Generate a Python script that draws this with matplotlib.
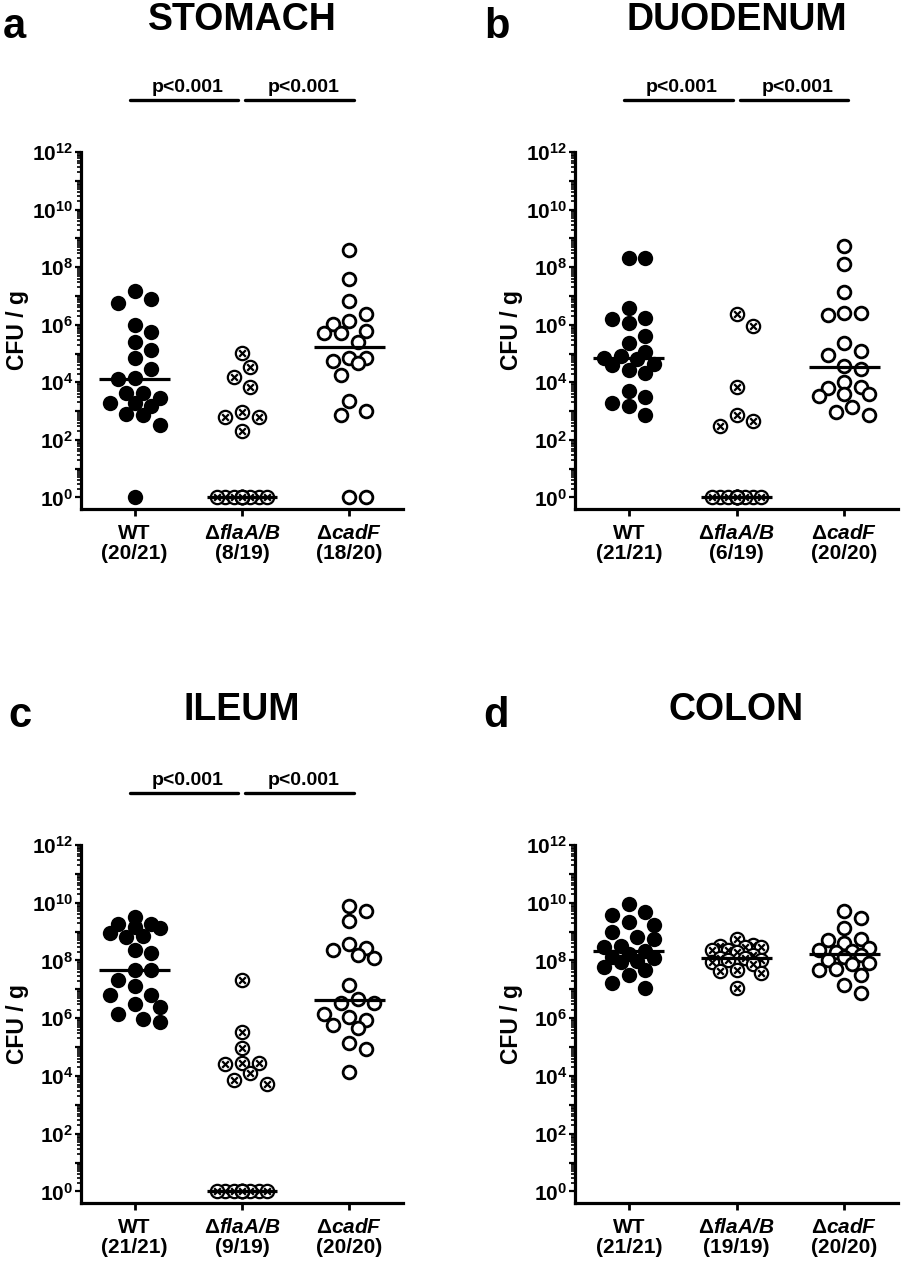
import numpy as np
import matplotlib
matplotlib.use('Agg')
import matplotlib.pyplot as plt
from matplotlib.path import Path
from matplotlib.ticker import FixedLocator, FuncFormatter, NullFormatter
from matplotlib.transforms import blended_transform_factory

plt.rcParams['font.family'] = ['Liberation Sans', 'DejaVu Sans']
plt.rcParams['font.weight'] = 'bold'
plt.rcParams['mathtext.fontset'] = 'custom'
plt.rcParams['mathtext.rm'] = 'Liberation Sans:bold'
plt.rcParams['mathtext.it'] = 'Liberation Sans:bold:italic'
plt.rcParams['mathtext.sf'] = 'Liberation Sans:bold:italic'
plt.rcParams['mathtext.bf'] = 'Liberation Sans:bold'

# ---------------- data (log10 CFU/g; 0 = detection floor 10^0) ----------------
titles = ['STOMACH', 'DUODENUM', 'ILEUM', 'COLON']
letters = ['a', 'b', 'c', 'd']

stomach_wt = [7.18, 6.88, 6.77, 6.00, 5.76, 5.41, 5.13, 4.83, 4.46, 4.14, 4.10,
              3.62, 3.62, 3.45, 3.29, 3.29, 3.18, 2.86, 2.89, 2.53, 0]
stomach_fla = [5.03, 4.52, 4.17, 3.85, 2.98, 2.81, 2.79, 2.31,
               0, 0, 0, 0, 0, 0, 0, 0, 0, 0, 0]
stomach_cad = [8.59, 7.58, 6.81, 6.38, 6.12, 6.02, 5.78, 5.73, 5.71, 5.41,
               4.83, 4.83, 4.75, 4.66, 4.25, 3.35, 3.02, 2.87, 0, 0]

duodenum_wt = [8.31, 8.31, 6.59, 6.25, 6.20, 6.06, 5.62, 5.37, 5.04, 4.90, 4.86,
               4.81, 4.65, 4.60, 4.43, 4.31, 3.71, 3.48, 3.27, 3.19, 2.88]
duodenum_fla = [6.38, 5.96, 3.83, 2.86, 2.64, 2.49,
                0, 0, 0, 0, 0, 0, 0, 0, 0, 0, 0, 0, 0]
duodenum_cad = [8.75, 8.12, 7.14, 6.40, 6.40, 6.35, 5.36, 5.10, 4.96, 4.58,
                4.46, 4.00, 3.85, 3.80, 3.59, 3.59, 3.51, 3.13, 2.98, 2.88]

ileum_wt = [9.51, 9.28, 9.28, 9.17, 9.11, 8.94, 8.84, 8.82, 8.36, 8.26, 7.66,
            7.66, 7.31, 7.11, 6.82, 6.79, 6.50, 6.39, 6.16, 5.98, 5.87]
ileum_fla = [7.31, 5.54, 4.98, 4.44, 4.44, 4.40, 4.10, 3.87, 3.73,
             0, 0, 0, 0, 0, 0, 0, 0, 0, 0]
ileum_cad = [9.90, 9.73, 9.36, 8.56, 8.44, 8.38, 8.18, 8.10, 7.16, 6.68,
             6.54, 6.53, 6.16, 6.04, 5.95, 5.78, 5.67, 5.14, 4.94, 4.13]

colon_wt = [9.95, 9.69, 9.56, 9.34, 9.22, 8.99, 8.82, 8.76, 8.50, 8.47, 8.32,
            8.22, 8.13, 8.07, 7.97, 7.95, 7.78, 7.66, 7.49, 7.22, 7.06]
colon_fla = [8.76, 8.55, 8.50, 8.47, 8.45, 8.38, 8.36, 8.30, 8.20, 8.10,
             8.07, 8.03, 8.00, 7.95, 7.88, 7.66, 7.64, 7.57, 7.06]
colon_cad = [9.71, 9.46, 9.13, 8.73, 8.70, 8.61, 8.44, 8.38, 8.32, 8.28,
             8.18, 8.11, 8.01, 7.92, 7.88, 7.70, 7.66, 7.49, 7.16, 6.88]

counts_stomach = ['(20/21)', '(8/19)', '(18/20)']
counts_duodenum = ['(21/21)', '(6/19)', '(20/20)']
counts_ileum = ['(21/21)', '(9/19)', '(20/20)']
counts_colon = ['(21/21)', '(19/19)', '(20/20)']

pvals_stomach = ['p<0.001', 'p<0.001']
pvals_duodenum = ['p<0.001', 'p<0.001']
pvals_ileum = ['p<0.001', 'p<0.001']
pvals_colon = []

strain_names = ['WT', 'Δ$\\mathsf{flaA/B}$', 'Δ$\\mathsf{cadF}$']

panels = [
    (stomach_wt, stomach_fla, stomach_cad, counts_stomach, pvals_stomach),
    (duodenum_wt, duodenum_fla, duodenum_cad, counts_duodenum, pvals_duodenum),
    (ileum_wt, ileum_fla, ileum_cad, counts_ileum, pvals_ileum),
    (colon_wt, colon_fla, colon_cad, counts_colon, pvals_colon),
]

# ---------------- layout ----------------
W, H = 901, 1266
fig = plt.figure(figsize=(W / 100, H / 100), dpi=100)

# axes boxes in pixels: left, right, top, bottom
boxes = [(81, 403, 152, 509), (575, 898, 152, 509),
         (81, 403, 845, 1203), (575, 898, 845, 1203)]
letter_pos = [(3, 38), (484, 38), (8, 727), (483, 727)]

# crossed-circle marker
circ = Path.unit_circle()
a = 0.5
xl1 = Path([(-a, -a), (a, a)], [Path.MOVETO, Path.LINETO])
xl2 = Path([(-a, a), (a, -a)], [Path.MOVETO, Path.LINETO])
crossed = Path.make_compound_path(circ, xl1, xl2)

DIAM = 15.5   # px, collision diameter
STEP = 8.33   # px, horizontal step
KMAX = 3


def swarm_offsets(ax, xc, vals):
    pts = ax.transData.transform(np.column_stack([np.full(len(vals), xc), vals]))
    ys = pts[:, 1]
    order = np.argsort(-ys, kind='stable')
    cands = [0]
    for k in range(1, KMAX + 1):
        cands += [k, -k]
    placed = []
    offs = np.zeros(len(vals))
    for i in order:
        best, bestd = 0, -1.0
        for k in cands:
            x = k * STEP
            if placed:
                d = min(np.hypot(x - px, ys[i] - py) for px, py in placed)
            else:
                d = np.inf
            if d >= DIAM:
                best = k
                break
            if d > bestd + 1e-9:
                bestd, best = d, k
        placed.append((best * STEP, ys[i]))
        offs[i] = best * STEP
    return offs


for idx, (wt, fla, cad, counts, pvals) in enumerate(panels):
    l, r, t, b = boxes[idx]
    ax = fig.add_axes([l / W, 1 - b / H, (r - l) / W, (b - t) / H])
    ax.set_yscale('log')
    ax.set_xlim(0.5, 3.5)
    ax.set_ylim(10 ** -0.4, 10 ** 12)
    for s in ['top', 'right']:
        ax.spines[s].set_visible(False)
    for s in ['left', 'bottom']:
        ax.spines[s].set_linewidth(2.3)

    ax.yaxis.set_major_locator(FixedLocator([10.0 ** e for e in range(0, 13)]))
    ax.yaxis.set_minor_locator(FixedLocator([k * 10.0 ** e for e in range(0, 12) for k in range(2, 10)]))
    ax.yaxis.set_major_formatter(FuncFormatter(
        lambda v, pos: ('$10^{%d}$' % round(np.log10(v))) if round(np.log10(v)) % 2 == 0 else ''))
    ax.yaxis.set_minor_formatter(NullFormatter())
    ax.tick_params(axis='y', which='major', length=4, width=1.6, pad=1.5, labelsize=15)
    ax.tick_params(axis='y', which='minor', length=3, width=1.2)
    ax.tick_params(axis='x', which='major', length=5, width=2, pad=6, labelsize=15)

    ax.set_xticks([1, 2, 3])
    ax.set_xticklabels([f'{n}\n{c}' for n, c in zip(strain_names, counts)],
                       fontweight='bold', linespacing=1.05)
    ax.set_ylabel('CFU / g', fontsize=16.5, fontweight='bold')
    ax.yaxis.set_label_coords(-0.162, 0.5)

    ppu = ax.transData.transform((1, 1))[0] - ax.transData.transform((0, 1))[0]
    groups = [np.array(wt), np.array(fla), np.array(cad)]
    for gi, lv in enumerate(groups):
        xc = gi + 1
        vals = 10.0 ** lv
        offs = swarm_offsets(ax, xc, vals) / ppu
        xs = xc + offs
        if gi == 0:
            ax.scatter(xs, vals, s=122, c='black', marker='o', linewidths=0, zorder=3, clip_on=False)
        elif gi == 1:
            ax.scatter(xs, vals, s=92, facecolors='white', edgecolors='black', marker=crossed,
                       linewidths=1.6, zorder=3, clip_on=False)
        else:
            ax.scatter(xs, vals, s=84, facecolors='white', edgecolors='black', marker='o',
                       linewidths=2.0, zorder=3, clip_on=False)
        med = np.median(vals)
        ax.plot([xc - 0.33, xc + 0.33], [med, med], color='black', lw=2.3,
                solid_capstyle='butt', zorder=5, clip_on=False)

    # significance bars
    tr = blended_transform_factory(ax.transData, ax.transAxes)
    y_line = (b - 100) / (b - t) if idx < 2 else (b - 793) / (b - t)
    y_txt = (b - 92) / (b - t) if idx < 2 else (b - 785) / (b - t)
    spans = [(0.955, 1.965), (2.03, 3.04)]
    for (x0, x1), p in zip(spans, pvals):
        ax.plot([x0, x1], [y_line, y_line], transform=tr, color='black', lw=2.4,
                solid_capstyle='round', clip_on=False)
        ax.text((x0 + x1) / 2 + 0.035, y_txt, p, transform=tr, ha='center', va='baseline',
                fontsize=14, fontweight='bold')

    # title
    ty = (b - 30) / (b - t) if idx < 2 else (b - 720) / (b - t)
    ax.text(0.5, ty, titles[idx], transform=ax.transAxes, ha='center', va='baseline',
            fontsize=27, fontweight='bold')
    lx, ly = letter_pos[idx]
    fig.text(lx / W, 1 - ly / H, letters[idx], ha='left', va='baseline',
             fontsize=30, fontweight='bold')

fig.savefig('out.png', dpi=100, facecolor='white')
